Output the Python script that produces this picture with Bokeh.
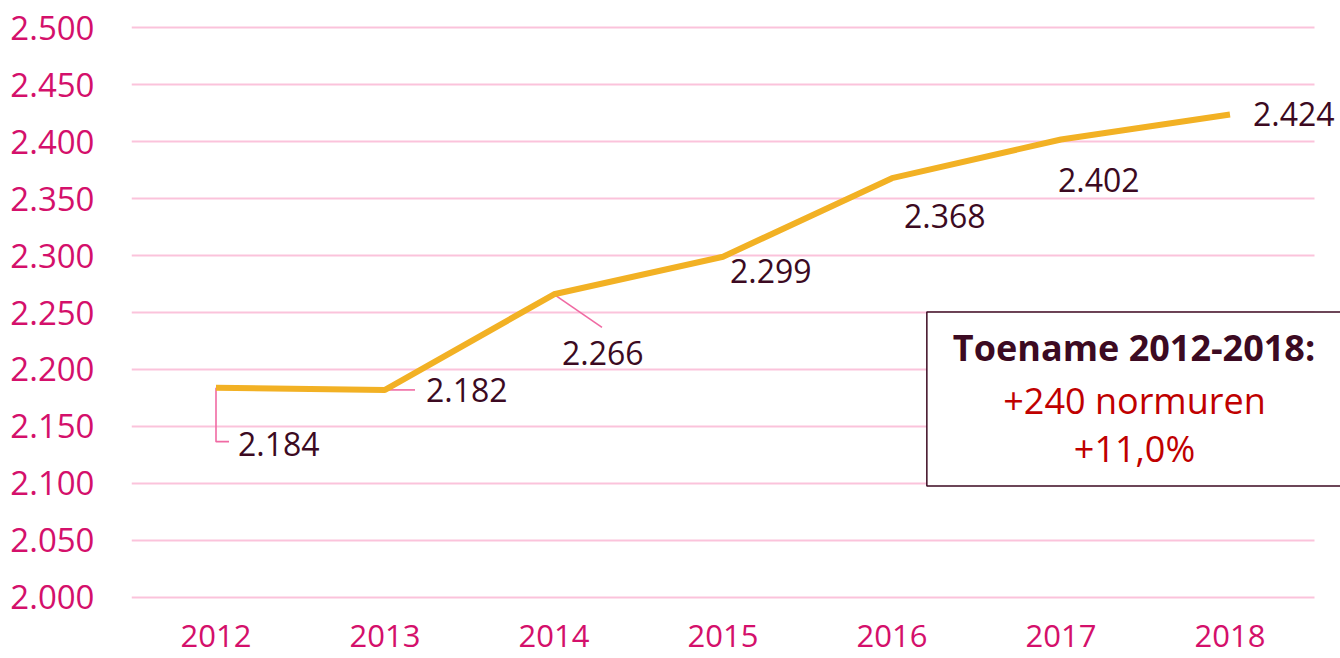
from bokeh.plotting import figure
from bokeh.models import Range1d, FixedTicker, Label, Grid
from bokeh.core.properties import value
from bokeh.embed import file_html
from bokeh.resources import INLINE

# ---- data ----
years = ["2012", "2013", "2014", "2015", "2016", "2017", "2018"]
normuren = [2184, 2182, 2266, 2299, 2368, 2402, 2424]
value_labels = ["2.184", "2.182", "2.266", "2.299", "2.368", "2.402", "2.424"]
y_ticks = [2000, 2050, 2100, 2150, 2200, 2250, 2300, 2350, 2400, 2450, 2500]
y_tick_labels = ["2.000", "2.050", "2.100", "2.150", "2.200", "2.250",
                 "2.300", "2.350", "2.400", "2.450", "2.500"]
box_title = "Toename 2012-2018:"
box_line2 = "+240 normuren"
box_line3 = "+11,0%"

# ---- style ----
FONT = "Open Sans"
AXIS_COLOR = "#D4106B"
GRID_COLOR = "#FBC3DB"
LINE_COLOR = "#F2B124"
LABEL_COLOR = "#3C0A22"
LEADER_COLOR = "#F06AA3"
RED = "#C00000"

# label offsets in screen pixels (right, down)
label_dx = [22, 41, 8, 7, 12, -3, 23]
label_dy = [56, 0, 59, 14, 38, 41, 0]
# leader lines (pixel offsets from the point), only for first three labels
leaders = {0: [(0, 0), (0, 54), (13, 54)],
           1: [(0, 0), (30, 0)],
           2: [(0, 0), (48, 33)]}

W, H = 1340, 658
BL, BR, BT, BB = 131, 0, 16, 50
PX_PER_CAT = 169.0
x0 = -0.5
x1 = x0 + (W - BL - BR) / PX_PER_CAT
y0, y1 = 1990, 2510

p = figure(width=W, height=H, x_range=Range1d(x0, x1), y_range=Range1d(y0, y1),
           output_backend="svg", toolbar_location=None,
           min_border_left=BL, min_border_right=BR, min_border_top=BT, min_border_bottom=BB)
p.outline_line_color = None
p.background_fill_color = "white"
p.border_fill_color = "white"

px_x = (W - BL - BR) / (x1 - x0)
px_y = (H - BT - BB) / (y1 - y0)

idx = list(range(len(years)))

# grid
p.xgrid.grid_line_color = None
p.ygrid.grid_line_color = GRID_COLOR
p.ygrid.grid_line_width = 2
p.ygrid.ticker = FixedTicker(ticks=y_ticks)
if "cross_bounds" in Grid.properties():
    p.ygrid.cross_bounds = (-0.5, len(years) - 0.5)

# axes
for ax in (p.xaxis[0], p.yaxis[0]):
    ax.axis_line_color = None
    ax.major_tick_line_color = None
    ax.minor_tick_line_color = None
    ax.major_label_text_font = FONT
    ax.major_label_text_color = AXIS_COLOR
p.yaxis.ticker = FixedTicker(ticks=y_ticks)
p.yaxis.major_label_overrides = {t: l for t, l in zip(y_ticks, y_tick_labels)}
p.yaxis.major_label_text_font_size = "33px"
p.yaxis.major_label_standoff = 31
p.xaxis.ticker = FixedTicker(ticks=idx)
p.xaxis.major_label_overrides = {i: y for i, y in zip(idx, years)}
p.xaxis.major_label_text_font_size = "31px"
p.xaxis.major_label_standoff = 10

# leader lines
lx, ly = [], []
for i, pts in leaders.items():
    lx.append([idx[i] + dx / px_x for dx, dy in pts])
    ly.append([normuren[i] - dy / px_y for dx, dy in pts])
p.multi_line(xs=lx, ys=ly, line_color=LEADER_COLOR, line_width=1.6)

# main line
p.line(x=idx, y=normuren, line_color=LINE_COLOR, line_width=6)

# data labels
p.text(x=idx, y=normuren, text=value_labels, x_offset=label_dx, y_offset=label_dy,
       text_font=value(FONT), text_font_size="32px", text_color=LABEL_COLOR,
       text_align="left", text_baseline="middle")

# annotation box (positions in screen pixels converted to data)
def to_x(px):
    return x0 + (px - BL) / px_x

def to_y(py):
    return y1 - (py - BT) / px_y

box = Label(x=to_x(1133.5), y=to_y(398.5), text=box_title,
            text_font=FONT, text_font_size="36px", text_font_style="bold",
            text_color=LABEL_COLOR, text_align="center", text_baseline="middle",
            background_fill_color="white", border_line_color=LABEL_COLOR,
            border_line_width=1.5,
            padding=dict(left=26, right=26, top=11, bottom=114))
p.add_layout(box)
for txt, py in ((box_line2, 400), (box_line3, 448)):
    p.add_layout(Label(x=to_x(1134), y=to_y(py), text=txt,
                       text_font=FONT, text_font_size="36px", text_color=RED,
                       text_align="center", text_baseline="middle"))

open("out.html", "w").write(file_html(p, INLINE))
